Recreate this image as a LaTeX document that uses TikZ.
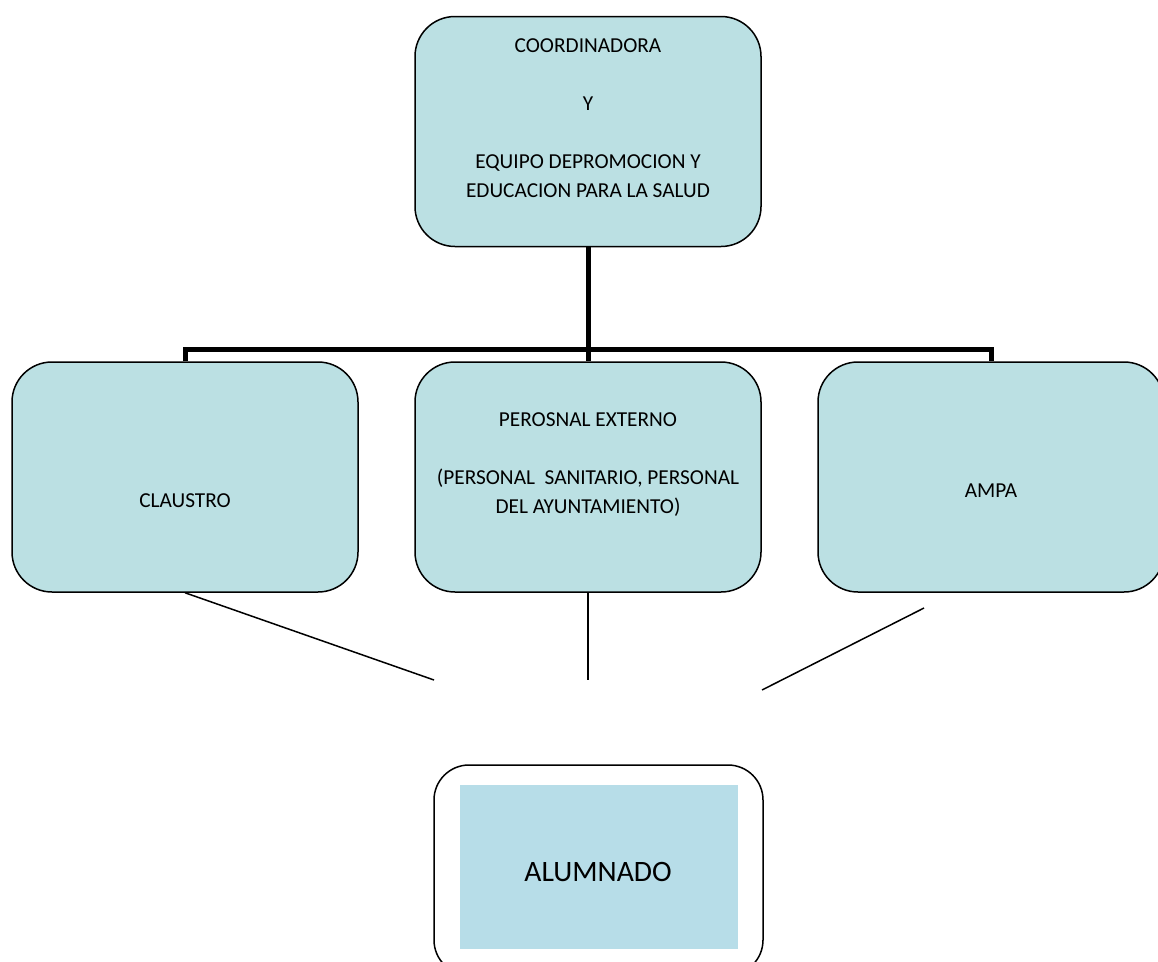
\documentclass[tikz,border=0pt]{standalone}
\usepackage{fontspec}
\setmainfont{Carlito}
\usepackage{xcolor}
\definecolor{boxteal}{RGB}{187,224,227}
\definecolor{innerblue}{RGB}{183,221,232}

\begin{document}
\begin{tikzpicture}[x=1pt, y=-1pt,
    box/.style={draw, line width=1.5pt, fill=boxteal, rounded corners=40pt, minimum width=346pt, minimum height=230pt, inner sep=0pt},
    txt/.style={anchor=north, inner sep=0pt, align=center, font=\fontsize{21.3}{29}\selectfont},
    trunk/.style={line width=5pt},
    link/.style={line width=1.5pt}]
    \useasboundingbox (0,0) rectangle (1158,961);

    \node[box] (coord) at (588,131.5) {};
    \node[box] (claustro) at (185,477) {};
    \node[box] (externo) at (588,477) {};
    \node[box] (ampa) at (991,477) {};

    \node[txt] (coordtext) at (588,38) {COORDINADORA\\[29pt] Y\\[29pt] EQUIPO DEPROMOCION Y\\ EDUCACION PARA LA SALUD};
    \node[txt] (claustrotext) at (185,493) {CLAUSTRO};
    \node[txt] (externotext) at (588,412) {PEROSNAL EXTERNO\\[29pt] (PERSONAL\ \ SANITARIO, PERSONAL\\ DEL AYUNTAMIENTO)};
    \node[txt] (ampatext) at (991,484) {AMPA};

    \coordinate (bus) at (588,349);
    \draw[trunk] (coord.south) -- (externo.north);
    \draw[trunk] (claustro.north) |- (bus) -| (ampa.north);

    \coordinate (leftend) at (434,680);
    \coordinate (midend) at (588,680);
    \coordinate (rightstart) at (924,608);
    \coordinate (rightend) at (762,690);
    \draw[link] (claustro.south) -- (leftend);
    \draw[link] (externo.south) -- (midend);
    \draw[link] (rightstart) -- (rightend);

    \node[draw, line width=1.5pt, rounded corners=35pt, minimum width=329pt, minimum height=210pt] (alumnado) at (598.5,870) {};
    \node[fill=innerblue, minimum width=278pt, minimum height=164pt] (alumnadofill) at (599,867) {};
    \node[txt, font=\fontsize{29.6}{35}\selectfont] (alumnadotext) at (598,862) {ALUMNADO};
\end{tikzpicture}
\end{document}
